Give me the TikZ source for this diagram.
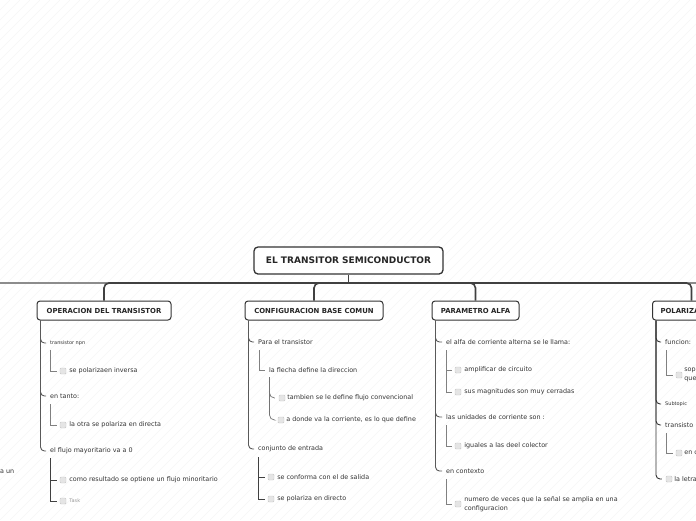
\documentclass[tikz,border=0pt]{standalone}
\usepackage{fontspec}
\setmainfont{DejaVu Sans}
\usetikzlibrary{positioning}

\tikzset{
  root/.style={draw=black!80, line width=1.3pt, rounded corners=4pt, fill=white, text=black!85,
    font=\bfseries\fontsize{9}{11}\selectfont, minimum width=189pt, minimum height=27pt, inner sep=0pt},
  branch/.style={draw=black!80, line width=1pt, rounded corners=3pt, fill=white, text=black!85,
    font=\bfseries\fontsize{6.9}{8}\selectfont, minimum height=19pt, inner xsep=8pt, inner ysep=0pt},
  topic/.style={anchor=west, inner sep=0pt, text=black!80, font=\fontsize{6.4}{8.5}\selectfont},
  small/.style={topic, font=\fontsize{5}{6}\selectfont},
  chk/.style={draw=black!22, fill=black!10, rounded corners=1pt, minimum size=6pt, inner sep=0pt, line width=0.4pt},
  link/.style={draw=black!75, line width=1.6pt},
  trunk/.style={draw=black!65, line width=0.9pt, rounded corners=4pt},
  bracket/.style={draw=black!50, line width=0.8pt},
  curl/.style={draw=black!55, line width=0.7pt, rounded corners=5pt},
  hatch/.style={draw=black!4, line width=0.6pt}
}

\begin{document}
\begin{tikzpicture}[x=1pt,y=-1pt]
  \useasboundingbox (0,0) rectangle (696,520);
  %%%%% BACKGROUND %%%%%
  \foreach \i in {-520,-510,...,700}
    \draw[hatch] (\i,520) -- ++(520,-520);

  %%%%% TOPICS %%%%%
  \node[root] (root) at (348.5,260.5) {EL TRANSITOR SEMICONDUCTOR};
  \node[branch, minimum width=134pt] (oper) at (104,310.5) {OPERACION DEL TRANSISTOR};
  \node[branch, minimum width=138pt] (conf) at (314,310.5) {CONFIGURACION BASE COMUN};
  \node[branch, minimum width=87pt] (alfa) at (475.5,310.5) {PARAMETRO ALFA};
  \node[branch, anchor=west, text width=62pt, align=left] (pola) at (652,310.5) {POLARIZA};

  \coordinate (hub) at (348.5,283);
  \coordinate (west-end) at (-10,283);
  \coordinate (east-end) at (706,283);
  \draw[link, draw=black!45] (hub) -- (west-end);
  \draw[link, draw=black!45] (hub) -- (east-end);
  \draw[link] (root.south) -- (hub);
  \foreach \b in {oper,conf,alfa,pola}
    \draw[link, rounded corners=5pt] (hub) -| (\b.north);

  %%%%% OPERACION DEL TRANSISTOR %%%%%
  \node[small] (npn) at (50,343) {transistor npn};
  \node[chk] (inv-chk) at (63,371) {};
  \node[topic, right=3pt of inv-chk] (inv) {se polarizaen inversa};
  \node[topic] (tanto) at (50,396) {en tanto:};
  \node[chk] (dir-chk) at (63,425) {};
  \node[topic, right=3pt of dir-chk] (dir) {la otra se polariza en directa};
  \node[topic] (flujo) at (50,451) {el flujo mayoritario va a 0};
  \node[chk] (min-chk) at (63,480) {};
  \node[topic, right=3pt of min-chk] (min) {como resultado se optiene un flujo minoritario};
  \node[chk] (task-chk) at (63,501) {};
  \node[small, text=black!40, right=3pt of task-chk] (task) {Task};
  \node[topic, anchor=east] (aun) at (14.5,472) {a un};

  \foreach \t in {npn,tanto,flujo}
    \draw[trunk] ([shift={(4,0)}]oper.south west) |- ([shift={(-4,0)}]\t.west);
  \draw[bracket] ([shift={(0.5,7)}]npn.west) |- ([shift={(-3,0)}]inv-chk.west);
  \draw[bracket] ([shift={(0.5,8)}]tanto.west) |- ([shift={(-3,0)}]dir-chk.west);
  \draw[bracket, draw=black!75] ([shift={(0.5,7)}]flujo.west) |- ([shift={(-3,0)}]min-chk.west);
  \draw[bracket, draw=black!75] ([shift={(0.5,7)}]flujo.west) |- ([shift={(-3,0)}]task-chk.west);

  %%%%% CONFIGURACION BASE COMUN %%%%%
  \node[topic] (para) at (258,342) {Para el transistor};
  \node[topic] (flecha) at (269,370) {la flecha define la direccion};
  \node[chk] (conv-chk) at (282,398) {};
  \node[topic, right=2pt of conv-chk] (conv) {tambien se le define flujo convencional};
  \node[chk] (donde-chk) at (281,420) {};
  \node[topic, right=2pt of donde-chk] (donde) {a donde va la corriente, es lo que define};
  \node[topic] (entrada) at (258,449) {conjunto de entrada};
  \node[chk] (salida-chk) at (271,477) {};
  \node[topic, right=3pt of salida-chk] (salida) {se conforma con el de salida};
  \node[chk] (direc-chk) at (271,499) {};
  \node[topic, right=3pt of direc-chk] (direc) {se polariza en directo};

  \foreach \t in {para,entrada}
    \draw[trunk] ([shift={(4,0)}]conf.south west) |- ([shift={(-4,0)}]\t.west);
  \draw[bracket] ([shift={(1,8)}]para.west) |- ([shift={(-4,0)}]flecha.west);
  \draw[curl] ([shift={(0.5,7)}]flecha.west) |- ([shift={(-4,0)}]conv-chk.west);
  \draw[curl] ([shift={(0.5,7)}]flecha.west) |- ([shift={(-4,0)}]donde-chk.west);
  \draw[bracket, draw=black!75] ([shift={(0.5,8)}]entrada.west) |- ([shift={(-3,0)}]salida-chk.west);
  \draw[bracket, draw=black!75] ([shift={(0.5,8)}]entrada.west) |- ([shift={(-3,0)}]direc-chk.west);

  %%%%% PARAMETRO ALFA %%%%%
  \node[topic] (llama) at (446,342) {el alfa de corriente alterna se le llama:};
  \node[chk] (ampl-chk) at (458,370) {};
  \node[topic, right=3pt of ampl-chk] (ampl) {amplificar de circuito};
  \node[chk] (magn-chk) at (458,392) {};
  \node[topic, right=3pt of magn-chk] (magn) {sus magnitudes son muy cerradas};
  \node[topic] (unid) at (446,417) {las unidades de corriente son :};
  \node[chk] (igual-chk) at (458,446) {};
  \node[topic, right=3pt of igual-chk] (igual) {iguales a las deel colector};
  \node[topic] (contexto) at (446,471) {en contexto};
  \node[chk] (veces-chk) at (458,504) {};
  \node[topic, align=left, right=3pt of veces-chk] (veces) {numero de veces que la señal se amplia en una\\configuracion};

  \foreach \t in {llama,unid,contexto}
    \draw[trunk] ([shift={(4,0)}]alfa.south west) |- ([shift={(-4,0)}]\t.west);
  \draw[bracket] ([shift={(0,8)}]llama.west) |- ([shift={(-3,0)}]ampl-chk.west);
  \draw[bracket] ([shift={(0,8)}]llama.west) |- ([shift={(-3,0)}]magn-chk.west);
  \draw[bracket] ([shift={(0,8)}]unid.west) |- ([shift={(-3,0)}]igual-chk.west);
  \draw[bracket] ([shift={(0,8)}]contexto.west) |- ([shift={(-3,0)}]veces-chk.west);

  %%%%% POLARIZA %%%%%
  \node[topic] (funcion) at (665,342) {funcion:};
  \node[chk] (sop-chk) at (679,375) {};
  \node[topic, align=left, right=2pt of sop-chk] (sop) {sop\\que};
  \node[small] (subt) at (665,404) {Subtopic};
  \node[topic] (trans) at (665,425) {transisto};
  \node[chk] (enc-chk) at (679,453) {};
  \node[topic, right=2pt of enc-chk] (enc) {en c};
  \node[chk] (letra-chk) at (669,479) {};
  \node[topic, right=2pt of letra-chk] (letra) {la letra};

  \foreach \t in {funcion,subt,trans,letra-chk}
    \draw[trunk, draw=black!80] ([shift={(4,0)}]pola.south west) |- ([shift={(-4,0)}]\t.west);
  \draw[bracket] ([shift={(1,8)}]funcion.west) |- ([shift={(-3,0)}]sop-chk.west);
  \draw[bracket] ([shift={(1,8)}]trans.west) |- ([shift={(-3,0)}]enc-chk.west);
\end{tikzpicture}
\end{document}
